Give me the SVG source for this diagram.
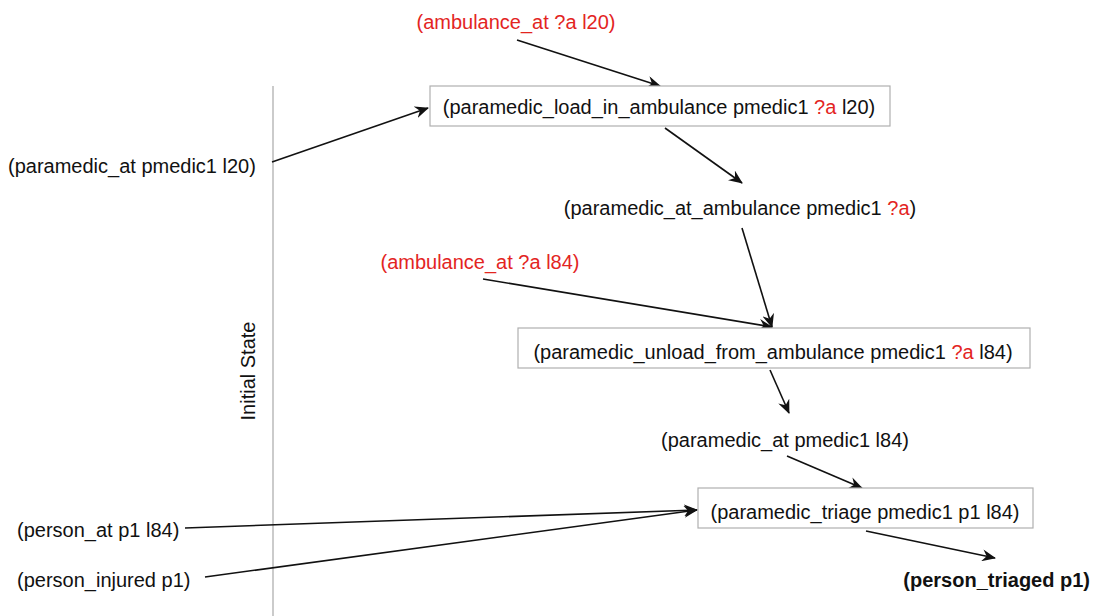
<svg xmlns="http://www.w3.org/2000/svg" width="1100" height="616" viewBox="0 0 1100 616">
  <defs>
    <marker id="arrow" viewBox="0 0 14 12" refX="13" refY="6" markerWidth="14" markerHeight="12" markerUnits="userSpaceOnUse" orient="auto">
      <path d="M0,0 L14,6 L0,12 L4.5,6 z" fill="#111"/>
    </marker>
    <style>
      text { font-family: "Liberation Sans", Arial, sans-serif; font-size: 20px; fill: #111; }
      .red { fill: #e3251f; }
      .bold { font-weight: bold; }
      .box { fill: #fff; stroke: #b0b0b0; stroke-width: 1.2; }
      .edge { stroke: #111; stroke-width: 1.6; fill: none; marker-end: url(#arrow); }
      .axis { stroke: #a8a8a8; stroke-width: 1.2; }
    </style>
  </defs>

  <rect width="1100" height="616" fill="#fff"/>

  <!-- initial state divider -->
  <line class="axis" x1="273" y1="86" x2="273" y2="616"/>
  <text x="0" y="0" transform="translate(255,371) rotate(-90)" text-anchor="middle">Initial State</text>

  <!-- connectors -->
  <g id="edges">
    <line class="edge" x1="517" y1="40" x2="660" y2="86"/>
    <line class="edge" x1="272" y1="162" x2="428" y2="108"/>
    <line class="edge" x1="665" y1="128" x2="742" y2="183"/>
    <line class="edge" x1="742" y1="228" x2="772" y2="327"/>
    <line class="edge" x1="483" y1="279" x2="772" y2="327"/>
    <line class="edge" x1="770" y1="370" x2="789" y2="413"/>
    <line class="edge" x1="787" y1="456" x2="862" y2="488"/>
    <line class="edge" x1="185" y1="528" x2="697" y2="510"/>
    <line class="edge" x1="205" y1="577" x2="697" y2="510"/>
    <line class="edge" x1="866" y1="531" x2="995" y2="558"/>
  </g>

  <g id="amb-at-l20">
    <text class="red" x="516" y="29" text-anchor="middle">(ambulance_at ?a l20)</text>
  </g>

  <g id="load-in-ambulance">
    <rect class="box" x="430" y="86" width="460" height="40"/>
    <text x="659" y="114" text-anchor="middle">(paramedic_load_in_ambulance pmedic1 <tspan class="red">?a</tspan> l20)</text>
  </g>

  <g id="paramedic-at-l20">
    <text x="8" y="173">(paramedic_at pmedic1 l20)</text>
  </g>

  <g id="paramedic-at-ambulance">
    <text x="740" y="215" text-anchor="middle">(paramedic_at_ambulance pmedic1 <tspan class="red">?a</tspan>)</text>
  </g>

  <g id="amb-at-l84">
    <text class="red" x="480" y="269" text-anchor="middle">(ambulance_at ?a l84)</text>
  </g>

  <g id="unload-from-ambulance">
    <rect class="box" x="518" y="328" width="512" height="40"/>
    <text x="773" y="359" text-anchor="middle">(paramedic_unload_from_ambulance pmedic1 <tspan class="red">?a</tspan> l84)</text>
  </g>

  <g id="paramedic-at-l84">
    <text x="785" y="447" text-anchor="middle">(paramedic_at pmedic1 l84)</text>
  </g>

  <g id="triage">
    <rect class="box" x="698" y="488" width="335" height="40"/>
    <text x="865" y="519" text-anchor="middle">(paramedic_triage pmedic1 p1 l84)</text>
  </g>

  <g id="person-at">
    <text x="17" y="537">(person_at p1 l84)</text>
  </g>

  <g id="person-injured">
    <text x="17" y="587">(person_injured p1)</text>
  </g>

  <g id="person-triaged">
    <text class="bold" x="1090" y="587" text-anchor="end">(person_triaged p1)</text>
  </g>
</svg>
